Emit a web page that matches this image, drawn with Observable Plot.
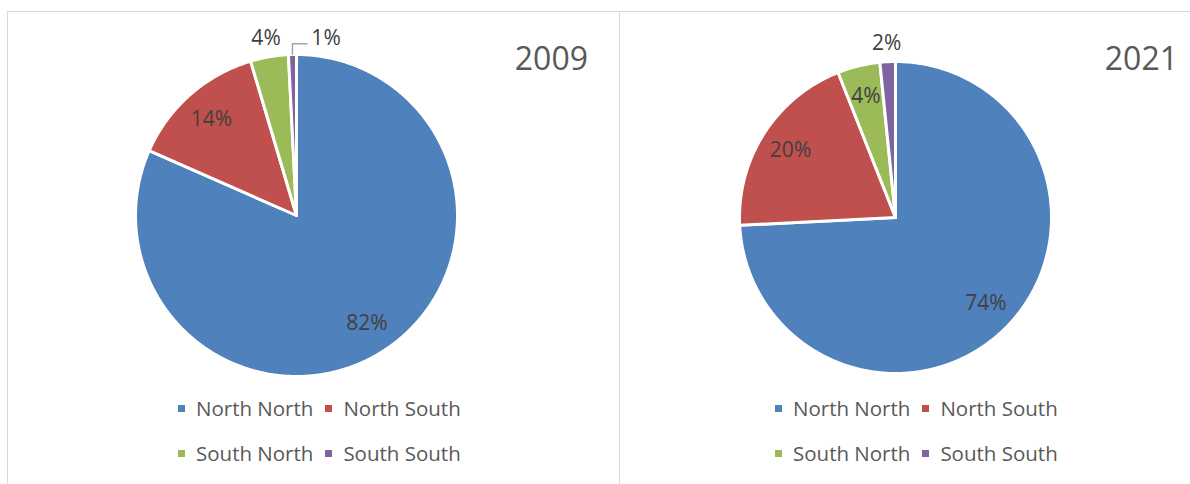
<!DOCTYPE html>
<html>
<head>
<meta charset="utf-8">
<script src="https://cdn.jsdelivr.net/npm/d3@7"></script>
<script src="https://cdn.jsdelivr.net/npm/@observablehq/plot@0.6"></script>
<style>
  html, body { margin: 0; padding: 0; background: #fff; overflow: hidden; }
  body { width: 1190px; height: 484px; position: relative; font-family: "Open Sans", sans-serif; }
  .frame { position: absolute; border: 1px solid #d9d9d9; box-sizing: border-box; }
  .chart { position: absolute; }
  .year { position: absolute; font-size: 32px; line-height: 32px; color: #595959; text-align: right; width: 120px; }
  .legend { position: absolute; display: grid; grid-template-columns: auto auto; column-gap: 12px; row-gap: 21px; font-size: 20.5px; color: #595959; }
  .item { display: flex; align-items: center; height: 24px; white-space: nowrap; }
  .sw { width: 7px; height: 7px; margin-right: 11px; flex: none; }
</style>
</head>
<body>
<div class="frame" style="left:7px;top:11px;width:613px;height:520px;"></div>
<div class="frame" style="left:619px;top:11px;width:620px;height:520px;"></div>
<div id="c0" class="chart" style="left:8px;top:12px;"></div>
<div id="c1" class="chart" style="left:620px;top:12px;"></div>
<div id="y0" class="year" style="left:468px;top:42px;"></div>
<div id="y1" class="year" style="left:1058px;top:42px;"></div>
<div id="l0" class="legend" style="left:178px;top:396px;"></div>
<div id="l1" class="legend" style="left:775px;top:396px;"></div>
<script>
// ---- data ----
const categories = ["North North", "North South", "South North", "South South"];
const years = ["2009", "2021"];
const share2009 = [81.6, 13.8, 3.8, 0.8];
const share2021 = [74.2, 19.8, 4.4, 1.6];
const colors = ["#4F81BD", "#C0504D", "#9BBB59", "#8064A2"];

// ---- layout (pixels) ----
const panels = [
  {values: share2009, year: years[0], el: "c0", yel: "y0", lel: "l0", width: 610, height: 380, cx: 288, cy: 203, r: 161},
  {values: share2021, year: years[1], el: "c1", yel: "y1", lel: "l1", width: 569, height: 380, cx: 275, cy: 205, r: 156}
];

function pieChart(p) {
  const total = d3.sum(p.values);
  let acc = 0;
  const slices = p.values.map((v, i) => {
    const a0 = acc / total * 2 * Math.PI;
    acc += v;
    const a1 = acc / total * 2 * Math.PI;
    return {cat: categories[i], value: v, share: v / total, a0, a1, mid: (a0 + a1) / 2};
  });
  // slice outlines in unit-circle data space (angle clockwise from 12 o'clock)
  const pts = [];
  for (const s of slices) {
    pts.push({cat: s.cat, x: 0, y: 0});
    const n = Math.max(2, Math.ceil((s.a1 - s.a0) / (Math.PI / 360)));
    for (let k = 0; k <= n; k++) {
      const a = s.a0 + (s.a1 - s.a0) * k / n;
      pts.push({cat: s.cat, x: Math.sin(a), y: Math.cos(a)});
    }
    pts.push({cat: s.cat, x: 0, y: 0});
  }
  // data labels
  const px = 1 / p.r;
  const labels = [], leaders = [];
  let prevOut = null;
  for (const s of slices) {
    const text = Math.round(s.share * 100) + "%";
    if (s.share >= 0.04) {
      labels.push({text, x: 0.8 * Math.sin(s.mid), y: 0.8 * Math.cos(s.mid)});
    } else {
      let lx = 1.12 * Math.sin(s.mid), ly = 1.12 * Math.cos(s.mid);
      if (prevOut && Math.abs(lx - prevOut.x) < 40 * px) {
        lx = prevOut.x + 60 * px;
        ly = prevOut.y;
        const ex = Math.sin(s.mid), ey = Math.cos(s.mid);
        const hy = ly - 6 * px;
        leaders.push({id: s.cat, x: ex, y: ey});
        leaders.push({id: s.cat, x: ex, y: hy});
        leaders.push({id: s.cat, x: lx - 19 * px, y: hy});
      }
      prevOut = {x: lx, y: ly};
      labels.push({text, x: lx, y: ly});
    }
  }
  return Plot.plot({
    width: p.width,
    height: p.height,
    margin: 0,
    x: {domain: [-1, 1], range: [p.cx - p.r, p.cx + p.r], axis: null},
    y: {domain: [-1, 1], range: [p.cy + p.r, p.cy - p.r], axis: null},
    color: {domain: categories, range: colors},
    style: {background: "none", fontFamily: "Open Sans", overflow: "visible"},
    marks: [
      Plot.line(pts, {x: "x", y: "y", z: "cat", fill: "cat", stroke: "white", strokeWidth: 3, strokeLinejoin: "round"}),
      Plot.line(leaders, {x: "x", y: "y", z: "id", stroke: "#a6a6a6", strokeWidth: 1.5}),
      Plot.text(labels, {x: "x", y: "y", text: "text", fontSize: 21, fill: "#404040", lineAnchor: "middle", textAnchor: "middle"})
    ]
  });
}

for (const p of panels) {
  document.getElementById(p.el).appendChild(pieChart(p));
  document.getElementById(p.yel).textContent = p.year;
  const lg = document.getElementById(p.lel);
  categories.forEach((c, i) => {
    const it = document.createElement("div");
    it.className = "item";
    const sw = document.createElement("span");
    sw.className = "sw";
    sw.style.background = colors[i];
    const t = document.createElement("span");
    t.textContent = c;
    it.appendChild(sw);
    it.appendChild(t);
    lg.appendChild(it);
  });
}
</script>
</body>
</html>
